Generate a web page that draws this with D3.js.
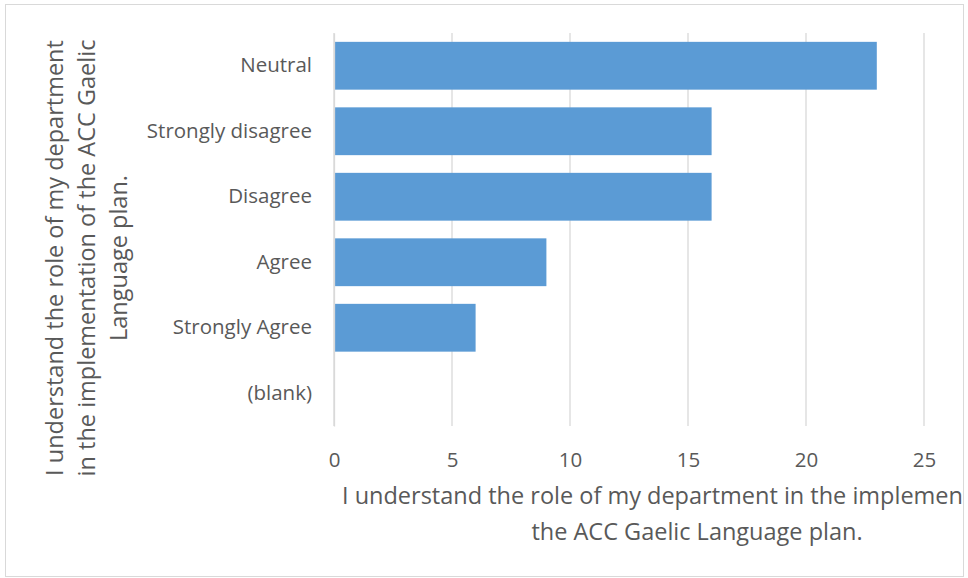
<!DOCTYPE html>
<html>
<head>
<meta charset="utf-8">
<script src="https://cdn.jsdelivr.net/npm/d3@7"></script>
<style>
  body { margin: 0; background: #fff; }
  text { font-family: "Open Sans", sans-serif; fill: #595959; }
</style>
</head>
<body>
<svg id="chart" width="968" height="578"></svg>
<script>
// data
var categories = ["Neutral", "Strongly disagree", "Disagree", "Agree", "Strongly Agree", "(blank)"];
var counts = [23, 16, 16, 9, 6, 0];
var xTicks = [0, 5, 10, 15, 20, 25];
var xTitle = ["I understand the role of my department in the implementation of", "the ACC Gaelic Language plan."];
var yTitle = ["I understand the role of my department", "in the implementation of the ACC Gaelic", "Language plan."];

var svg = d3.select('#chart');
var margin = {left: 334, right: 44, top: 33, bottom: 152};
var W = 968, H = 578;
var tickFont = '20.5px', titleFont = '23.5px';

// outer frame
svg.append('rect')
   .attr('x', 5.5).attr('y', 4.5)
   .attr('width', 958).attr('height', 572)
   .style('fill', '#fff').style('stroke', '#d9d9d9');

// the x title runs past the frame in the original, so clip it
svg.append('clipPath').attr('id', 'frame')
   .append('rect').attr('x', 6).attr('y', 5).attr('width', 957).attr('height', 571);

var x = d3.scaleLinear().domain([0, 25]).range([margin.left, W - margin.right]);
var y = d3.scaleBand().domain(categories).range([margin.top, H - margin.bottom]).paddingInner(0.27).paddingOuter(0.135);

// gridlines
svg.append('g').selectAll('line')
   .data(xTicks)
   .enter()
   .append('line')
   .attr('x1', d => x(d)).attr('x2', d => x(d))
   .attr('y1', margin.top).attr('y2', H - margin.bottom)
   .style('stroke', '#d9d9d9').style('stroke-width', 1.3);

// bars
svg.append('g').selectAll('rect')
   .data(categories)
   .enter()
   .append('rect')
   .attr('x', x(0))
   .attr('y', d => y(d))
   .attr('width', (d, i) => x(counts[i]) - x(0))
   .attr('height', y.bandwidth())
   .style('fill', '#5b9bd5');

// category axis
var yAxis = svg.append('g')
   .attr('transform', 'translate(' + x(0) + ',0)')
   .call(d3.axisLeft(y).tickSize(0).tickPadding(22));
yAxis.select('.domain').style('stroke', '#d9d9d9').style('stroke-width', 1.3);
yAxis.selectAll('text').style('font-size', tickFont).style('font-family', '"Open Sans", sans-serif').style('fill', '#595959');

// value axis
var xAxis = svg.append('g')
   .attr('transform', 'translate(0,' + (H - margin.bottom) + ')')
   .call(d3.axisBottom(x).tickValues(xTicks).tickSize(0).tickPadding(26));
xAxis.select('.domain').remove();
xAxis.selectAll('text').style('font-size', tickFont).style('font-family', '"Open Sans", sans-serif').style('fill', '#595959');

// axis titles
var xt = svg.append('g').attr('clip-path', 'url(#frame)');
xt.append('text')
  .attr('x', 342).attr('y', 504)
  .style('font-size', titleFont)
  .text(xTitle[0]);
xt.append('text')
  .attr('x', 697).attr('y', 540)
  .attr('text-anchor', 'middle')
  .style('font-size', titleFont)
  .text(xTitle[1]);

var yt = svg.append('g').attr('transform', 'translate(0,258) rotate(-90)');
yt.selectAll('text')
  .data(yTitle)
  .enter()
  .append('text')
  .attr('x', 0)
  .attr('y', (d, i) => 63 + i * 32)
  .attr('text-anchor', 'middle')
  .style('font-size', titleFont)
  .text(d => d);
</script>
</body>
</html>
